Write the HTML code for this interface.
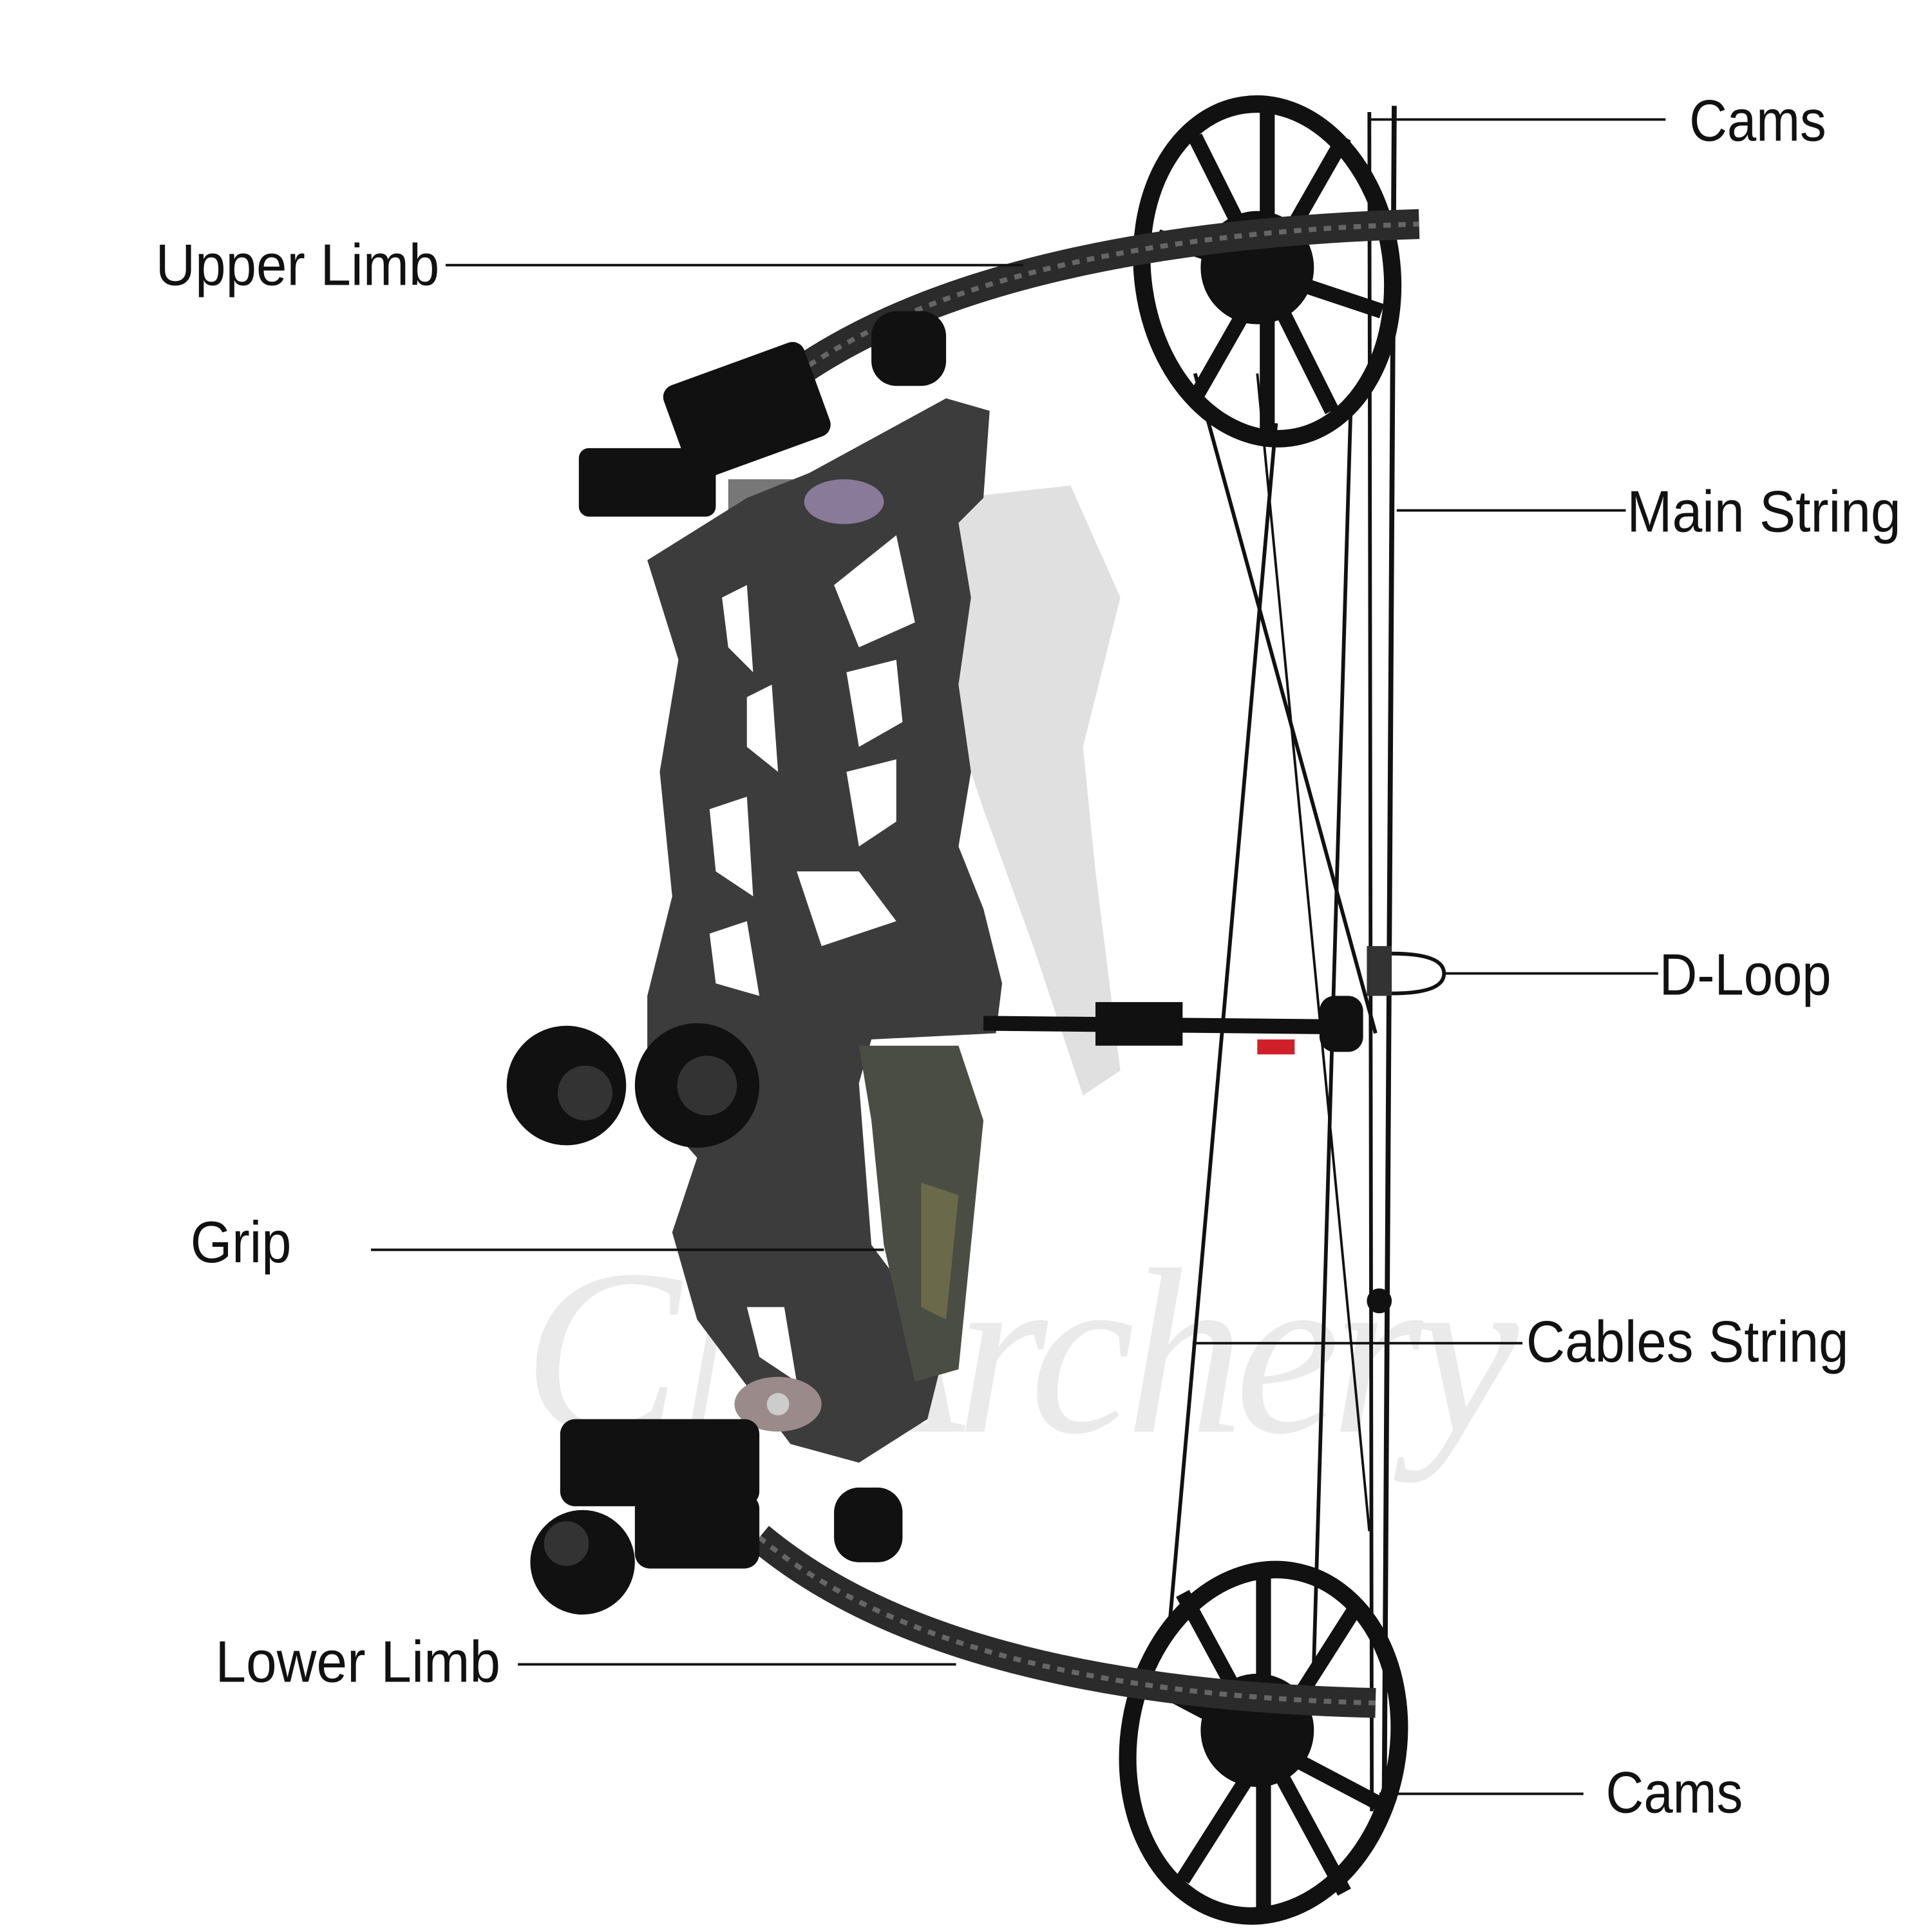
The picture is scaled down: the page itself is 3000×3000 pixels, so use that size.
<!DOCTYPE html>
<html><head><meta charset="utf-8"><style>
html,body{margin:0;padding:0;background:#fff;}
svg{display:block;}
text{font-family:"Liberation Sans Narrow","Liberation Sans",sans-serif;fill:#111;}
</style></head><body>
<svg width="3000" height="3000" viewBox="0 0 1552 1552" xmlns="http://www.w3.org/2000/svg">
<rect width="1552" height="1552" fill="#fff"/>
<text x="420" y="1150" font-size="190" font-style="italic" style="fill:#000;opacity:0.08;font-family:'Liberation Serif',serif" textLength="800">CNArchery</text>
<path d="M770 400 L860 390 L900 480 L870 600 L880 700 L900 860 L870 880 L830 760 L790 650 L760 560 Z" fill="#000" opacity="0.12"/>

<g stroke="#111" fill="none">
<line x1="1120" y1="85" x2="1112" y2="1450" stroke-width="4"/>
<line x1="1100" y1="90" x2="1102" y2="1455" stroke-width="3"/>
<line x1="960" y1="300" x2="1105" y2="830" stroke-width="3"/>
<line x1="1025" y1="340" x2="940" y2="1300" stroke-width="3"/>
<line x1="1085" y1="330" x2="1055" y2="1350" stroke-width="3"/>
<line x1="1010" y1="300" x2="1100" y2="1230" stroke-width="2"/>
</g>

<g stroke="#111" fill="none">
<ellipse cx="1018" cy="218" rx="100" ry="135" stroke-width="14" transform="rotate(-8 1018 218)"/>
<path d="M1018 90 L1018 350 M930 190 L1110 250 M960 110 L1070 330 M1080 110 L960 320" stroke-width="12"/>
<circle cx="1010" cy="215" r="45" fill="#111"/>
</g>
<g stroke="#111" fill="none">
<ellipse cx="1015" cy="1400" rx="108" ry="140" stroke-width="14" transform="rotate(10 1015 1400)"/>
<path d="M1015 1265 L1015 1535 M920 1350 L1110 1450 M950 1280 L1080 1520 M1090 1290 L950 1510" stroke-width="12"/>
<circle cx="1010" cy="1390" r="45" fill="#111"/>
</g>

<path d="M640 300 Q800 190 1140 180" stroke="#2b2b2b" stroke-width="24" fill="none"/>
<path d="M640 300 Q800 190 1140 180" stroke="#666" stroke-width="4" fill="none" stroke-dasharray="6 6"/>
<path d="M610 1235 Q760 1360 1105 1368" stroke="#2b2b2b" stroke-width="24" fill="none"/>
<path d="M610 1235 Q760 1360 1105 1368" stroke="#666" stroke-width="4" fill="none" stroke-dasharray="6 6"/>

<rect x="465" y="360" width="110" height="55" rx="8" fill="#111"/>
<rect x="540" y="290" width="120" height="80" rx="10" fill="#111" transform="rotate(-20 600 330)"/>
<rect x="700" y="250" width="60" height="60" rx="20" fill="#111"/>
<rect x="585" y="385" width="55" height="30" fill="#777"/>

<path d="M520 450 L600 400 L650 380 L760 320 L795 330 L790 400 L770 420 L780 480 L770 550 L780 620 L770 680 L790 730 L805 790 L800 830 L700 835 L690 870 L700 1000 L760 1080 L745 1140 L690 1175 L635 1160 L590 1100 L560 1060 L540 990 L560 930 L520 885 L520 800 L540 720 L530 620 L545 530 Z" fill="#3c3c3c"/>
<g fill="#fff">
<path d="M580 480 L600 470 L605 540 L585 520 Z"/>
<path d="M670 470 L720 430 L735 500 L690 520 Z"/>
<path d="M600 560 L620 550 L625 620 L600 600 Z"/>
<path d="M680 540 L720 530 L725 580 L690 600 Z"/>
<path d="M570 650 L600 640 L605 720 L575 700 Z"/>
<path d="M680 620 L720 610 L720 660 L690 680 Z"/>
<path d="M640 700 L690 700 L720 740 L660 760 Z"/>
<path d="M570 750 L600 740 L610 800 L575 790 Z"/>
<path d="M600 1050 L630 1050 L640 1110 L610 1090 Z"/>
</g>
<path d="M690 840 L770 840 L790 900 L780 1000 L770 1100 L735 1110 L710 1000 L700 900 Z" fill="#4a4d44"/>
<path d="M740 950 L770 960 L760 1060 L740 1050 Z" fill="#6a6a4a"/>
<ellipse cx="678" cy="403" rx="32" ry="18" fill="#8a7a9a"/>
<ellipse cx="625" cy="1128" rx="35" ry="22" fill="#9a8a8a"/>
<circle cx="625" cy="1128" r="9" fill="#ccc"/>

<circle cx="455" cy="872" r="48" fill="#111"/><circle cx="470" cy="878" r="22" fill="#333"/>
<circle cx="560" cy="872" r="50" fill="#111"/><circle cx="568" cy="872" r="24" fill="#333"/>
<circle cx="468" cy="1255" r="42" fill="#111"/><circle cx="455" cy="1240" r="18" fill="#333"/>
<rect x="450" y="1140" width="160" height="70" rx="12" fill="#111"/>
<rect x="510" y="1200" width="100" height="60" rx="12" fill="#111"/>
<rect x="670" y="1195" width="55" height="60" rx="20" fill="#111"/>

<path d="M790 822 L1090 825" stroke="#111" stroke-width="12"/>
<rect x="880" y="805" width="70" height="35" fill="#111"/>
<rect x="1060" y="800" width="35" height="45" rx="12" fill="#111"/>
<rect x="1010" y="835" width="30" height="12" fill="#d0202a"/>
<rect x="1098" y="760" width="20" height="40" fill="#333"/>
<path d="M1118 766 Q1160 766 1160 782 Q1160 798 1118 798" stroke="#111" stroke-width="3" fill="none"/>
<circle cx="1108" cy="1045" r="10" fill="#111"/>

<g stroke="#111" stroke-width="2">
<line x1="1100" y1="96" x2="1338" y2="96"/>
<line x1="358" y1="213" x2="822" y2="213"/>
<line x1="1122" y1="410" x2="1306" y2="410"/>
<line x1="1160" y1="782" x2="1332" y2="782"/>
<line x1="298" y1="1004" x2="710" y2="1004"/>
<line x1="958" y1="1079" x2="1223" y2="1079"/>
<line x1="416" y1="1337" x2="768" y2="1337"/>
<line x1="1108" y1="1441" x2="1272" y2="1441"/>
</g>
<g font-size="47">
<text x="1357" y="113" textLength="110" lengthAdjust="spacingAndGlyphs">Cams</text>
<text x="125" y="229" textLength="228" lengthAdjust="spacingAndGlyphs">Upper Limb</text>
<text x="1307" y="427" textLength="220" lengthAdjust="spacingAndGlyphs">Main String</text>
<text x="1333" y="799" textLength="138" lengthAdjust="spacingAndGlyphs">D-Loop</text>
<text x="153" y="1014" textLength="81" lengthAdjust="spacingAndGlyphs">Grip</text>
<text x="1226" y="1094" textLength="259" lengthAdjust="spacingAndGlyphs">Cables String</text>
<text x="173" y="1351" textLength="229" lengthAdjust="spacingAndGlyphs">Lower Limb</text>
<text x="1290" y="1456" textLength="110" lengthAdjust="spacingAndGlyphs">Cams</text>
</g>
</svg>
</body></html>
